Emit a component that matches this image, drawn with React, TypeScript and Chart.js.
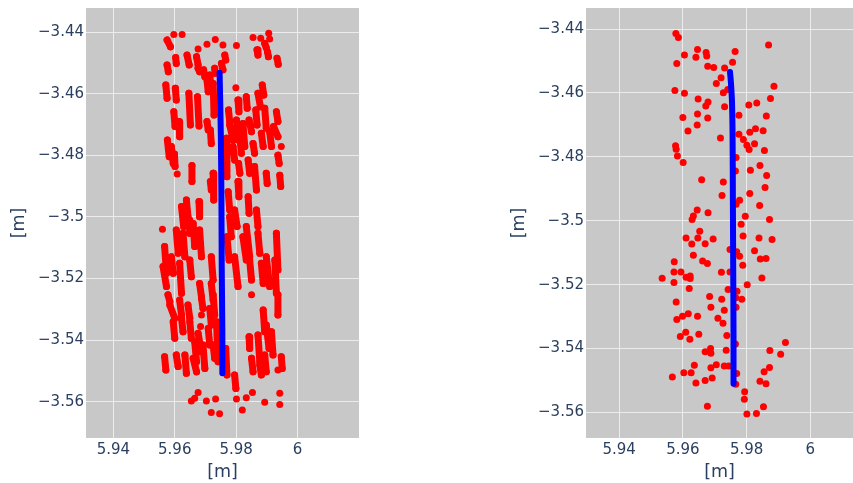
import React, { useEffect, useRef } from "react";
import { Chart, registerables } from "chart.js";
Chart.register(...registerables);

// ---------- axes ----------
const xTicks = [5.94, 5.96, 5.98, 6];
const yTicks = [-3.56, -3.54, -3.52, -3.5, -3.48, -3.46, -3.44];
const leftXRange = [5.9311, 6.02];
const leftYRange = [-3.5718, -3.4321];
const rightXRange = [5.9296, 6.0134];
const rightYRange = [-3.568, -3.4334];
const axisTitle = "[m]";

// ---------- left panel: blue path ----------
const leftPathX = [5.9746, 5.975, 5.9752, 5.9753, 5.9755, 5.9755];
const leftPathY = [-3.4531, -3.4728, -3.4945, -3.5161, -3.5378, -3.5508];

// ---------- left panel: red detections, runs of points [xStart, yStart, xEnd, yEnd] ----------
const leftTracks: [number, number, number, number][] = [
  [5.9575, -3.4425, 5.9586, -3.4447], [5.9603, -3.4482, 5.9605, -3.4501], [5.9575, -3.4506, 5.9579, -3.4528],
  [5.9571, -3.4571, 5.9575, -3.4614], [5.9602, -3.4582, 5.9605, -3.462], [5.9597, -3.4658, 5.9601, -3.4706],
  [5.9614, -3.469, 5.9616, -3.4739], [5.9576, -3.475, 5.9582, -3.4804], [5.9589, -3.4771, 5.9595, -3.4826],
  [5.9599, -3.4795, 5.9601, -3.4836], [5.9656, -3.4833, 5.9656, -3.4885], [5.964, -3.4474, 5.9647, -3.4506],
  [5.9646, -3.4598, 5.9651, -3.4701], [5.9671, -3.4479, 5.9676, -3.4506], [5.9674, -3.4609, 5.9679, -3.4704],
  [5.9676, -3.4517, 5.9681, -3.4528], [5.9694, -3.4522, 5.9698, -3.4544], [5.9705, -3.469, 5.9709, -3.4717],
  [5.9716, -3.4717, 5.9719, -3.4761], [5.9714, -3.4539, 5.9719, -3.4582], [5.9705, -3.4555, 5.9709, -3.4593],
  [5.973, -3.4517, 5.9732, -3.4533], [5.9725, -3.4566, 5.9728, -3.4669], [5.9763, -3.4474, 5.9766, -3.449],
  [5.9752, -3.4501, 5.9757, -3.4522], [5.9725, -3.4858, 5.9727, -3.4945], [5.9716, -3.4885, 5.9719, -3.4912],
  [5.9893, -3.4436, 5.9898, -3.445], [5.9868, -3.4457, 5.9871, -3.4474], [5.9902, -3.4463, 5.9905, -3.4479],
  [5.9933, -3.4484, 5.9937, -3.4504], [5.9885, -3.4571, 5.989, -3.4604], [5.9871, -3.4598, 5.9879, -3.4642],
  [5.9833, -3.4609, 5.9836, -3.4647], [5.9806, -3.462, 5.9809, -3.4658], [5.9775, -3.4652, 5.9779, -3.469],
  [5.9864, -3.4652, 5.9868, -3.4701], [5.9893, -3.4647, 5.9898, -3.4712], [5.9931, -3.4658, 5.9936, -3.469],
  [5.9922, -3.4706, 5.9936, -3.4739], [5.9779, -3.4701, 5.979, -3.475], [5.9801, -3.4685, 5.9806, -3.475],
  [5.9822, -3.4696, 5.9828, -3.4771], [5.9842, -3.4685, 5.985, -3.4723], [5.9855, -3.4761, 5.986, -3.4793],
  [5.9882, -3.4728, 5.9888, -3.4771], [5.9909, -3.4723, 5.9915, -3.4771], [5.9768, -3.4744, 5.977, -3.4869],
  [5.979, -3.4771, 5.9795, -3.4815], [5.9812, -3.4739, 5.9817, -3.4793], [5.9839, -3.4815, 5.9844, -3.4858],
  [5.986, -3.4836, 5.9866, -3.4912], [5.9898, -3.4858, 5.9901, -3.4891], [5.9936, -3.4799, 5.994, -3.4826],
  [5.9942, -3.4864, 5.9945, -3.4901], [5.9808, -3.4826, 5.9812, -3.4858], [5.9806, -3.4885, 5.9809, -3.4934],
  [5.9839, -3.4934, 5.9842, -3.4988], [5.9774, -3.4918, 5.9779, -3.4977], [5.9866, -3.4977, 5.9871, -3.5031],
  [5.9679, -3.495, 5.9681, -3.4999], [5.9638, -3.4945, 5.9643, -3.4999], [5.9622, -3.4966, 5.9629, -3.5031],
  [5.9647, -3.501, 5.9649, -3.5053], [5.9605, -3.5042, 5.9611, -3.5118], [5.9627, -3.5053, 5.9633, -3.5129],
  [5.9795, -3.4977, 5.9803, -3.5031], [5.9779, -3.4999, 5.9784, -3.5064], [5.977, -3.5064, 5.9777, -3.514],
  [5.9795, -3.5129, 5.9806, -3.5226], [5.9822, -3.5064, 5.9833, -3.514], [5.9833, -3.5031, 5.9844, -3.5129],
  [5.9844, -3.514, 5.985, -3.5205], [5.9871, -3.5053, 5.9877, -3.5118], [5.9882, -3.515, 5.9888, -3.5216],
  [5.9898, -3.5129, 5.9909, -3.5226], [5.9931, -3.5053, 5.9936, -3.5172], [5.9926, -3.514, 5.9931, -3.5248],
  [5.966, -3.5021, 5.9665, -3.5096], [5.9681, -3.5042, 5.9687, -3.5129], [5.9567, -3.5096, 5.9573, -3.5183],
  [5.9562, -3.5161, 5.9573, -3.5226], [5.9589, -3.5129, 5.9595, -3.5183], [5.9616, -3.515, 5.9622, -3.5248],
  [5.9649, -3.514, 5.9654, -3.5194], [5.9681, -3.5216, 5.9687, -3.5259], [5.9719, -3.5129, 5.9725, -3.5205],
  [5.9719, -3.5216, 5.9725, -3.527], [5.9578, -3.5253, 5.9584, -3.5275], [5.9584, -3.5286, 5.96, -3.5329],
  [5.9616, -3.527, 5.9622, -3.5318], [5.9595, -3.534, 5.96, -3.5394], [5.9622, -3.5329, 5.9627, -3.5373],
  [5.9643, -3.5286, 5.9649, -3.5329], [5.9649, -3.534, 5.9654, -3.5394], [5.9687, -3.5264, 5.9692, -3.5297],
  [5.9676, -3.5378, 5.9687, -3.5438], [5.9665, -3.5405, 5.9671, -3.547], [5.9692, -3.5416, 5.9698, -3.5492],
  [5.9714, -3.5297, 5.9719, -3.5351], [5.9725, -3.5253, 5.973, -3.5318], [5.9709, -3.5362, 5.9714, -3.5416],
  [5.9725, -3.5416, 5.973, -3.5459], [5.9736, -3.534, 5.9741, -3.547], [5.9633, -3.5448, 5.9638, -3.5508],
  [5.9605, -3.5448, 5.9611, -3.5486], [5.9567, -3.5454, 5.9571, -3.5497], [5.966, -3.5459, 5.9671, -3.5503],
  [5.9766, -3.5427, 5.977, -3.5513], [5.9795, -3.5513, 5.9799, -3.5557], [5.9842, -3.5389, 5.9844, -3.5427],
  [5.985, -3.5459, 5.9855, -3.5503], [5.9871, -3.5383, 5.9877, -3.547], [5.9888, -3.5302, 5.9893, -3.5373],
  [5.9898, -3.5351, 5.9907, -3.5427], [5.9915, -3.5373, 5.992, -3.5448], [5.9893, -3.5448, 5.9898, -3.5503],
  [5.9877, -3.5481, 5.9882, -3.5513], [5.9936, -3.5253, 5.9936, -3.5318], [5.9947, -3.5454, 5.995, -3.5492],
];

// ---------- left panel: isolated red detections [x, y] ----------
const leftDots: [number, number][] = [
  [5.9597, -3.4407], [5.9624, -3.4407], [5.9608, -3.486], [5.9676, -3.4454], [5.9705, -3.4439],
  [5.9732, -3.4423], [5.9757, -3.4441], [5.9801, -3.4443], [5.9799, -3.458], [5.9855, -3.4417],
  [5.988, -3.4419], [5.9906, -3.4403], [5.9909, -3.4422], [5.9947, -3.4771], [5.956, -3.504],
  [5.9687, -3.5318], [5.9684, -3.5356], [5.9936, -3.5497], [5.9853, -3.557], [5.9833, -3.5587],
  [5.9801, -3.5591], [5.9942, -3.5573], [5.9942, -3.5609], [5.9893, -3.5602], [5.982, -3.5627],
  [5.9654, -3.5598], [5.9676, -3.557], [5.9665, -3.5589], [5.9703, -3.5598], [5.9733, -3.5591],
  [5.9719, -3.5635], [5.9746, -3.5639], [5.985, -3.5253],
];

// ---------- right panel: blue path ----------
const rightPathX = [5.9748, 5.9751, 5.9754, 5.9756, 5.9757, 5.9758, 5.9759, 5.9759];
const rightPathY = [-3.4534, -3.457, -3.4622, -3.4727, -3.4936, -3.5144, -3.5353, -3.551];

// ---------- right panel: red detections [x, y] ----------
const rightDots: [number, number][] = [
  [5.9578, -3.4414], [5.9586, -3.4426], [5.9869, -3.445], [5.9646, -3.4464], [5.9673, -3.4473],
  [5.9675, -3.4484], [5.9764, -3.447], [5.9605, -3.4481], [5.9641, -3.4488], [5.9756, -3.4504],
  [5.9581, -3.4508], [5.9678, -3.4516], [5.9697, -3.452], [5.9731, -3.4522], [5.972, -3.4552],
  [5.9705, -3.457], [5.9886, -3.4579], [5.9575, -3.4592], [5.9605, -3.4601], [5.9727, -3.4599],
  [5.9741, -3.4589], [5.9875, -3.4617], [5.9648, -3.4619], [5.9679, -3.4628], [5.9672, -3.4641],
  [5.9731, -3.4643], [5.9807, -3.4638], [5.9832, -3.4631], [5.96, -3.4677], [5.9646, -3.4666],
  [5.9678, -3.4678], [5.9776, -3.467], [5.9862, -3.4672], [5.9616, -3.4719], [5.9645, -3.47],
  [5.9718, -3.4741], [5.9776, -3.4729], [5.979, -3.4746], [5.981, -3.4723], [5.9828, -3.4712],
  [5.9852, -3.4718], [5.9801, -3.4764], [5.9808, -3.4777], [5.9825, -3.4759], [5.9856, -3.478],
  [5.9577, -3.4765], [5.9579, -3.4776], [5.9583, -3.4797], [5.9601, -3.4818], [5.9767, -3.4802],
  [5.9812, -3.4842], [5.9842, -3.4827], [5.9863, -3.4858], [5.9765, -3.4844], [5.9659, -3.4872],
  [5.9727, -3.4879], [5.9723, -3.4921], [5.981, -3.4915], [5.9858, -3.4896], [5.9841, -3.4952],
  [5.9778, -3.4936], [5.9767, -3.4948], [5.9645, -3.4966], [5.9679, -3.4975], [5.9796, -3.4986],
  [5.9872, -3.4996], [5.9633, -3.4985], [5.9629, -3.4996], [5.9783, -3.5011], [5.9653, -3.5033],
  [5.961, -3.5054], [5.9647, -3.5054], [5.9695, -3.5057], [5.967, -3.5072], [5.9628, -3.5073],
  [5.9789, -3.5048], [5.9839, -3.5054], [5.988, -3.5059], [5.9748, -3.509], [5.9769, -3.5097],
  [5.9778, -3.5111], [5.9825, -3.5094], [5.9633, -3.5108], [5.9662, -3.5126], [5.9677, -3.5134],
  [5.9788, -3.5139], [5.9843, -3.512], [5.9861, -3.5118], [5.9573, -3.5128], [5.9572, -3.516],
  [5.9594, -3.516], [5.9721, -3.5161], [5.9748, -3.516], [5.9535, -3.518], [5.9572, -3.5193],
  [5.961, -3.5177], [5.9623, -3.5173], [5.9623, -3.5181], [5.9848, -3.5179], [5.9802, -3.52],
  [5.962, -3.5212], [5.9742, -3.5215], [5.977, -3.5221], [5.9579, -3.5254], [5.9684, -3.5237],
  [5.9722, -3.5246], [5.9766, -3.5241], [5.9785, -3.5246], [5.9688, -3.5271], [5.973, -3.528],
  [5.9767, -3.5271], [5.9581, -3.5309], [5.9599, -3.5299], [5.9617, -3.5291], [5.9646, -3.5299],
  [5.971, -3.5305], [5.9726, -3.5321], [5.9609, -3.5349], [5.9592, -3.5362], [5.9622, -3.5371],
  [5.965, -3.5355], [5.9738, -3.5359], [5.9765, -3.5386], [5.9922, -3.5381], [5.9873, -3.5406],
  [5.9907, -3.5418], [5.967, -3.541], [5.9687, -3.54], [5.9688, -3.5415], [5.9736, -3.5405],
  [5.9567, -3.5489], [5.9603, -3.5476], [5.9626, -3.5476], [5.9636, -3.5452], [5.9688, -3.546],
  [5.9705, -3.5451], [5.973, -3.5455], [5.9744, -3.5455], [5.9769, -3.5478], [5.9641, -3.5508],
  [5.967, -3.55], [5.9692, -3.5492], [5.9766, -3.5512], [5.9842, -3.5502], [5.9861, -3.551],
  [5.9855, -3.5473], [5.9872, -3.5459], [5.9794, -3.5535], [5.9793, -3.5559], [5.9677, -3.5581],
  [5.9853, -3.5582], [5.9831, -3.5603], [5.9801, -3.5605],
];

// ---------- styling ----------
const RED = "#ff0000";
const BLUE = "#0000ff";
const PLOT_BG = "#c8c8c8";
const GRID = "#ececec";
const TEXT = "#2a3f5f";
const FONT = "'DejaVu Sans', sans-serif";
const CANVAS_H = 483;

const bgPlugin = {
  id: "plotBg",
  beforeDraw(chart: any) {
    const { ctx, chartArea } = chart;
    if (!chartArea) return;
    ctx.save();
    ctx.fillStyle = PLOT_BG;
    ctx.fillRect(chartArea.left, chartArea.top, chartArea.right - chartArea.left, chartArea.bottom - chartArea.top);
    ctx.restore();
  },
};

const fmt = (v: number) => String(Math.round(v * 100) / 100).replace("-", "\u2212");

type PanelProps = {
  left: number;
  width: number;
  padRight: number;
  xRange: number[];
  yRange: number[];
  tracks: [number, number, number, number][];
  dots: [number, number][];
  pathX: number[];
  pathY: number[];
};

function Panel(p: PanelProps) {
  const ref = useRef<HTMLCanvasElement>(null);
  useEffect(() => {
    if (!ref.current) return;
    const trackData: any[] = [];
    p.tracks.forEach(([x1, y1, x2, y2]) => {
      trackData.push({ x: x1, y: y1 }, { x: x2, y: y2 }, { x: null, y: null });
    });
    const chart = new Chart(ref.current, {
      type: "scatter",
      data: {
        datasets: [
          {
            data: trackData,
            showLine: true,
            spanGaps: false,
            borderColor: RED,
            backgroundColor: RED,
            borderWidth: 7,
            borderCapStyle: "round",
            borderJoinStyle: "round",
            pointRadius: 3.5,
            pointBorderWidth: 0,
            pointHoverRadius: 3.5,
            order: 3,
          } as any,
          {
            data: p.dots.map(([x, y]) => ({ x, y })),
            backgroundColor: RED,
            borderWidth: 0,
            pointRadius: 3.5,
            pointHoverRadius: 3.5,
            order: 2,
          },
          {
            data: p.pathX.map((x, i) => ({ x, y: p.pathY[i] })),
            showLine: true,
            borderColor: BLUE,
            backgroundColor: BLUE,
            borderWidth: 6,
            borderCapStyle: "round",
            borderJoinStyle: "round",
            tension: 0.3,
            pointRadius: 0,
            pointHoverRadius: 0,
            order: 1,
          } as any,
        ],
      },
      options: {
        responsive: false,
        animation: false,
        events: [],
        layout: { autoPadding: false, padding: { top: 8, right: p.padRight, left: 0, bottom: 0 } },
        plugins: { legend: { display: false }, tooltip: { enabled: false } },
        scales: {
          x: {
            type: "linear",
            min: p.xRange[0],
            max: p.xRange[1],
            afterBuildTicks: (s: any) => {
              s.ticks = xTicks.map((v) => ({ value: v }));
            },
            afterFit: (s: any) => {
              s.height = 45;
              s.paddingLeft = 0;
              s.paddingRight = 0;
            },
            grid: { color: GRID, lineWidth: 1, drawTicks: false },
            border: { display: false },
            ticks: {
              callback: (v: any) => fmt(Number(v)),
              color: TEXT,
              font: { family: FONT, size: 15 },
              padding: 3,
              maxRotation: 0,
            },
            title: {
              display: true,
              text: axisTitle,
              color: TEXT,
              font: { family: FONT, size: 17.5 },
              padding: { top: 0, bottom: 0 },
            },
          },
          y: {
            type: "linear",
            min: p.yRange[0],
            max: p.yRange[1],
            afterBuildTicks: (s: any) => {
              s.ticks = yTicks.map((v) => ({ value: v }));
            },
            afterFit: (s: any) => {
              s.width = 86;
              s.paddingTop = 0;
              s.paddingBottom = 0;
            },
            grid: { color: GRID, lineWidth: 1, drawTicks: false },
            border: { display: false },
            ticks: {
              callback: (v: any) => fmt(Number(v)),
              color: TEXT,
              font: { family: FONT, size: 15 },
              padding: 2,
            },
            title: {
              display: true,
              text: axisTitle,
              color: TEXT,
              font: { family: FONT, size: 17.5 },
              padding: { top: 9, bottom: 0 },
            },
          },
        },
      },
      plugins: [bgPlugin],
    });
    return () => chart.destroy();
  }, []);
  return (
    <canvas
      ref={ref}
      width={p.width}
      height={CANVAS_H}
      style={{ position: "absolute", left: p.left, top: 0, width: p.width, height: CANVAS_H, display: "block" }}
    />
  );
}

export default function App() {
  return (
    <div style={{ position: "fixed", left: 0, top: 0, width: 853, height: CANVAS_H, background: "#ffffff" }}>
      <Panel
        left={0}
        width={360}
        padRight={1}
        xRange={leftXRange}
        yRange={leftYRange}
        tracks={leftTracks}
        dots={leftDots}
        pathX={leftPathX}
        pathY={leftPathY}
      />
      <Panel
        left={500}
        width={353}
        padRight={0}
        xRange={rightXRange}
        yRange={rightYRange}
        tracks={[]}
        dots={rightDots}
        pathX={rightPathX}
        pathY={rightPathY}
      />
    </div>
  );
}
